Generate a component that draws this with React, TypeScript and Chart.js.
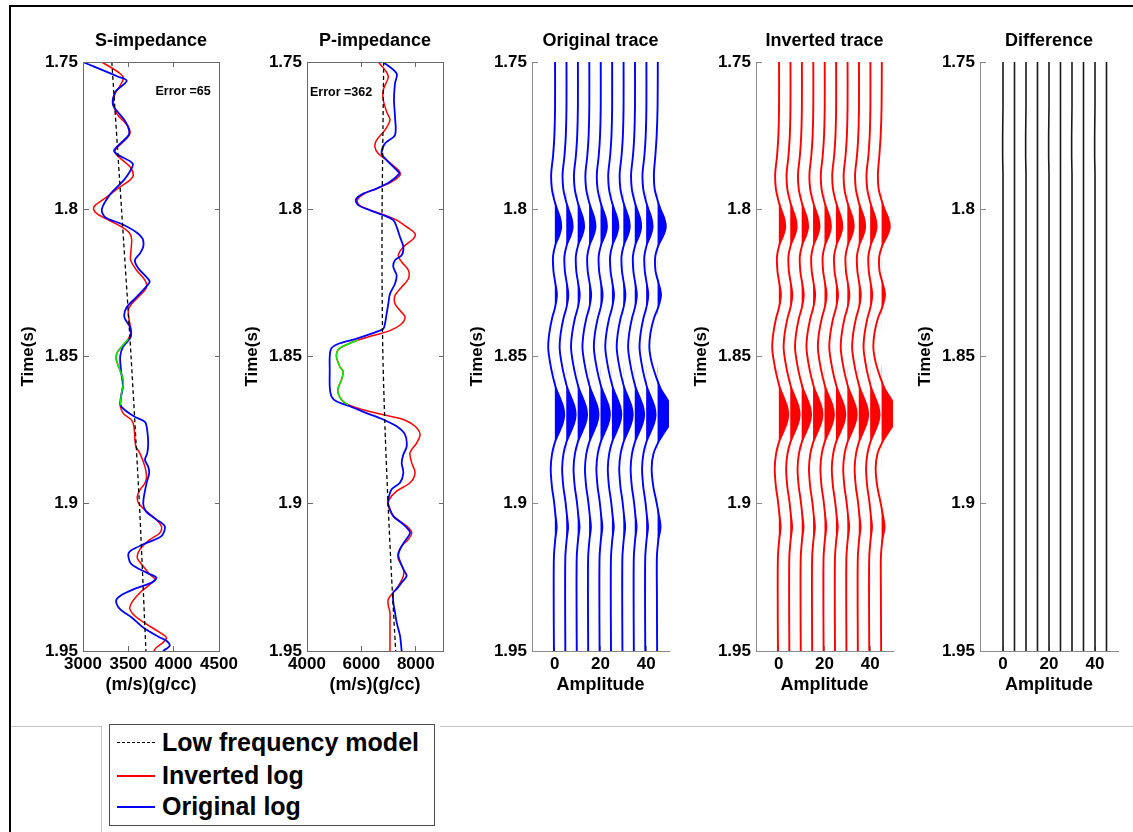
import React, { useEffect, useRef } from "react";
import { Chart, registerables } from "chart.js";

Chart.register(...registerables);

const FONT = '"Liberation Sans", Arial, Helvetica, sans-serif';
Chart.defaults.font.family = FONT;

// ---------------- tick labels ----------------
const timeTicks = [1.75, 1.8, 1.85, 1.9, 1.95];
const sImpTicks = [3000, 3500, 4000, 4500];
const pImpTicks = [4000, 6000, 8000];
const ampTicks = [0, 20, 40];

// ---------------- S-impedance  [time, value] ----------------
const sImpLowFreq: [number, number][] = [
  [1.75, 3318], [1.8, 3425], [1.85, 3530], [1.9, 3622], [1.95, 3694],
];
const sImpInverted: [number, number][] = [
  [1.75, 3208], [1.7539, 3409], [1.7556, 3445], [1.7584, 3401], [1.7607, 3354], [1.7641, 3336],
  [1.7675, 3372], [1.772, 3500], [1.7743, 3518], [1.7765, 3464], [1.7799, 3354], [1.7816, 3372],
  [1.7856, 3518], [1.7884, 3555], [1.7901, 3518], [1.7924, 3409], [1.7958, 3263], [1.7986, 3135],
  [1.8, 3117], [1.8015, 3153], [1.8037, 3281], [1.806, 3427], [1.8083, 3518], [1.8105, 3537],
  [1.8151, 3526], [1.8173, 3526], [1.8207, 3591], [1.8241, 3683], [1.8264, 3701], [1.8287, 3646],
  [1.8321, 3537], [1.8344, 3500], [1.8378, 3510], [1.8412, 3530], [1.844, 3500], [1.8485, 3380],
  [1.8508, 3365], [1.8542, 3402], [1.857, 3434], [1.8592, 3445], [1.862, 3427], [1.8649, 3416],
  [1.8666, 3409], [1.8694, 3445], [1.8716, 3537], [1.8739, 3562], [1.8784, 3573], [1.8806, 3584],
  [1.8829, 3628], [1.8874, 3683], [1.8908, 3701], [1.893, 3683], [1.8953, 3628], [1.8975, 3599],
  [1.8998, 3613], [1.9026, 3701], [1.9054, 3810], [1.9077, 3865], [1.9099, 3847], [1.9122, 3737],
  [1.9155, 3628], [1.9184, 3599], [1.9212, 3664], [1.924, 3737], [1.9257, 3792], [1.9279, 3719],
  [1.9302, 3628], [1.9336, 3537], [1.9358, 3518], [1.9381, 3573], [1.9409, 3701], [1.9437, 3847],
  [1.9454, 3920], [1.9471, 3883], [1.9488, 3810], [1.95, 3781],
];
const sImpOriginal: [number, number][] = [
  [1.75, 3000], [1.755, 3390], [1.7564, 3482], [1.76, 3360], [1.7625, 3330], [1.765, 3336],
  [1.77, 3464], [1.773, 3507], [1.775, 3500], [1.78, 3343], [1.7816, 3390], [1.7845, 3548],
  [1.7875, 3511], [1.79, 3453], [1.795, 3299], [1.8, 3208], [1.8027, 3245], [1.805, 3427],
  [1.8077, 3584], [1.81, 3657], [1.8128, 3664], [1.815, 3628], [1.8173, 3573], [1.82, 3610],
  [1.8241, 3730], [1.8252, 3726], [1.83, 3584], [1.8333, 3482], [1.8366, 3456], [1.84, 3518],
  [1.8434, 3526], [1.8468, 3440], [1.85, 3410], [1.855, 3420], [1.86, 3440], [1.8666, 3416],
  [1.8705, 3573], [1.8722, 3683], [1.875, 3708], [1.8795, 3719], [1.8829, 3708], [1.8851, 3683],
  [1.8874, 3719], [1.8896, 3730], [1.893, 3701], [1.8998, 3664], [1.9026, 3694], [1.9054, 3810],
  [1.9077, 3902], [1.911, 3865], [1.9133, 3701], [1.9161, 3518], [1.9178, 3500], [1.9206, 3537],
  [1.9234, 3701], [1.9251, 3810], [1.9268, 3756], [1.9291, 3555], [1.9313, 3409], [1.933, 3365],
  [1.9358, 3409], [1.9386, 3537], [1.942, 3664], [1.9454, 3847], [1.9465, 3920], [1.9482, 3956],
  [1.95, 3883],
];
const sGreenZone = [1.844, 1.8666];

// ---------------- P-impedance  [time, value] ----------------
const pImpLowFreq: [number, number][] = [
  [1.75, 6820], [1.775, 6790], [1.8, 6760], [1.825, 6760], [1.85, 6790],
  [1.875, 6870], [1.9, 6980], [1.925, 7110], [1.95, 7260],
];
const pImpInverted: [number, number][] = [
  [1.75, 6620], [1.7527, 6866], [1.755, 6989], [1.7595, 6804], [1.7629, 6804], [1.7669, 6927],
  [1.7697, 7050], [1.7731, 6866], [1.7765, 6558], [1.7788, 6497], [1.7811, 6620], [1.7833, 6927],
  [1.7867, 7358], [1.7884, 7419], [1.7907, 7112], [1.793, 6558], [1.7949, 6066], [1.7969, 5845],
  [1.7986, 5919], [1.8003, 6312], [1.802, 6866], [1.8037, 7296], [1.806, 7665], [1.8083, 7973],
  [1.81, 7911], [1.8128, 7542], [1.8156, 7358], [1.8179, 7481], [1.8207, 7727], [1.8236, 7727],
  [1.8264, 7481], [1.8293, 7235], [1.8321, 7235], [1.8344, 7419], [1.8366, 7604], [1.8389, 7481],
  [1.8412, 7050], [1.8429, 6435], [1.8444, 5882], [1.846, 5451], [1.8477, 5144], [1.85, 5082],
  [1.8534, 5205], [1.8551, 5328], [1.8579, 5267], [1.8607, 5144], [1.8624, 5144], [1.8647, 5267],
  [1.8664, 5513], [1.8681, 6066], [1.8698, 6804], [1.8714, 7542], [1.8737, 7973], [1.8765, 8157],
  [1.8793, 8034], [1.8827, 7788], [1.8861, 7850], [1.8895, 7973], [1.8929, 7788], [1.8957, 7296],
  [1.8985, 7026], [1.9008, 6989], [1.9042, 7173], [1.9076, 7665], [1.9098, 7850], [1.9121, 7727],
  [1.9143, 7481], [1.9166, 7358], [1.9188, 7358], [1.9222, 7542], [1.9245, 7542], [1.9279, 7358],
  [1.9301, 7173], [1.9324, 6989], [1.9346, 6989], [1.9369, 7050], [1.9414, 7050], [1.9459, 7050],
  [1.95, 7050],
];
const pImpOriginal: [number, number][] = [
  [1.75, 6804], [1.7539, 7296], [1.7573, 7235], [1.7629, 7198], [1.7686, 7235], [1.7748, 7235],
  [1.7777, 6866], [1.7811, 6743], [1.7833, 6927], [1.7873, 7358], [1.7879, 7395], [1.7907, 7050],
  [1.793, 6558], [1.7947, 6066], [1.7967, 5796], [1.7986, 5882], [1.8003, 6312], [1.802, 6804],
  [1.8037, 7173], [1.806, 7296], [1.8094, 7419], [1.8128, 7542], [1.8156, 7481], [1.8173, 7235],
  [1.8196, 7173], [1.8224, 7296], [1.8253, 7235], [1.8287, 7050], [1.8321, 6989], [1.8355, 6927],
  [1.8389, 6866], [1.8406, 6804], [1.842, 6450], [1.844, 5800], [1.8455, 5205], [1.8472, 4898],
  [1.85, 4836], [1.8545, 4836], [1.8602, 4836], [1.8635, 4898], [1.8652, 5082], [1.8669, 5574],
  [1.8692, 6189], [1.8714, 6804], [1.8737, 7296], [1.8765, 7604], [1.8805, 7665], [1.8833, 7542],
  [1.8861, 7481], [1.8895, 7542], [1.8929, 7419], [1.8951, 7112], [1.8985, 6989], [1.9002, 6989],
  [1.9042, 7173], [1.907, 7542], [1.9098, 7788], [1.9126, 7604], [1.9155, 7419], [1.9177, 7358],
  [1.9222, 7542], [1.9245, 7665], [1.9267, 7481], [1.929, 7296], [1.9301, 7173], [1.9335, 7173],
  [1.9369, 7235], [1.9403, 7296], [1.9448, 7419], [1.95, 7481],
];
const pGreenZone = [1.8444, 1.8664];

// ---------------- seismic traces ----------------
const traceOffsets = [0, 5, 10, 15, 20, 25, 30, 35, 40, 45];
const traceTimes = [
  1.75, 1.765, 1.775, 1.782, 1.788, 1.793, 1.797, 1.8, 1.803, 1.806,
  1.809, 1.812, 1.816, 1.821, 1.825, 1.829, 1.833, 1.837, 1.842, 1.847,
  1.852, 1.857, 1.861, 1.864, 1.867, 1.87, 1.873, 1.876, 1.879, 1.883,
  1.888, 1.894, 1.899, 1.904, 1.908, 1.912, 1.918, 1.93, 1.95,
];
// traces 1-9 (they look alike)
const originalTraceTypical = [
  0.1, 0.1, -0.2, -0.8, -1.6, -1.3, -0.2, 1.0, 2.3, 2.8,
  1.9, 0.3, -0.8, -0.6, 0.2, 0.9, 0.2, -1.2, -2.4, -2.9,
  -2.1, -0.8, 0.6, 2.2, 3.6, 4.1, 3.3, 1.7, 0.1, -1.2,
  -1.8, -1.3, -0.4, 0.3, 0.8, 0.2, -0.4, -0.5, -0.4,
];
// trace 10 (stronger response)
const originalTraceLast = [
  0.1, 0.0, -0.4, -1.0, -1.6, -1.3, 0.0, 1.3, 2.9, 3.6,
  2.5, 0.5, -1.0, -0.9, 0.4, 1.5, 0.4, -1.6, -3.1, -3.6,
  -2.6, -0.6, 1.4, 3.8, 5.7, 6.5, 5.2, 2.8, 0.4, -1.8,
  -2.6, -1.9, -0.6, 0.6, 1.3, 0.4, -0.3, -0.3, -0.2,
];
const invertedTraceTypical = [
  0.1, 0.1, -0.2, -0.8, -1.6, -1.3, -0.2, 1.0, 2.3, 2.8,
  1.9, 0.3, -0.8, -0.6, 0.2, 0.9, 0.2, -1.2, -2.4, -2.9,
  -2.1, -0.8, 0.6, 2.2, 3.6, 4.1, 3.3, 1.7, 0.1, -1.2,
  -1.8, -1.3, -0.4, 0.3, 0.8, 0.2, -0.4, -0.5, -0.4,
];
const invertedTraceLast = [
  0.1, 0.0, -0.4, -1.0, -1.6, -1.3, 0.0, 1.3, 2.9, 3.6,
  2.5, 0.5, -1.0, -0.9, 0.4, 1.5, 0.4, -1.6, -3.1, -3.6,
  -2.6, -0.6, 1.4, 3.8, 5.7, 6.5, 5.2, 2.8, 0.4, -1.8,
  -2.6, -1.9, -0.6, 0.6, 1.3, 0.4, -0.3, -0.3, -0.2,
];
const differenceTrace = [
  0, 0, -0.15, -0.15, 0, 0, 0, 0, 0, 0,
  0, 0, 0, 0, 0, 0, 0, 0, 0, 0,
  0, 0, 0, 0, 0, 0, 0, 0, 0, 0,
  0, 0, 0, 0, 0, 0, 0, 0.1, 0,
];

// ---------------- plugins ----------------
const framePlugin = {
  id: "frameBox",
  afterDatasetsDraw(chart: any, _a: any, opts: any) {
    if (!opts || !opts.show) return;
    const { ctx, chartArea } = chart;
    ctx.save();
    ctx.strokeStyle = opts.color;
    ctx.lineWidth = 1;
    ctx.strokeRect(
      Math.round(chartArea.left) + 0.5,
      Math.round(chartArea.top) + 0.5,
      Math.round(chartArea.right - chartArea.left),
      Math.round(chartArea.bottom - chartArea.top)
    );
    ctx.restore();
  },
};

const notePlugin = {
  id: "errNote",
  afterDatasetsDraw(chart: any, _a: any, opts: any) {
    if (!opts || !opts.text) return;
    const { ctx, scales } = chart;
    ctx.save();
    ctx.font = `bold 12.5px ${FONT}`;
    ctx.fillStyle = "#000";
    ctx.textAlign = "left";
    ctx.textBaseline = "middle";
    ctx.fillText(opts.text, scales.x.getPixelForValue(opts.x), scales.y.getPixelForValue(opts.y));
    ctx.restore();
  },
};

// ---------------- dataset builders ----------------
const toPts = (arr: [number, number][]) => arr.map(([t, v]) => ({ x: v, y: t }));

function impedanceDatasets(low: any, inv: any, orig: any, zone: number[]) {
  const green = inv.filter(([t]: any) => t >= zone[0] - 1e-9 && t <= zone[1] + 1e-9);
  return [
    { data: toPts(low), borderColor: "#000000", borderWidth: 1.3, borderDash: [4, 3], tension: 0.2, order: 0 },
    { data: toPts(green), borderColor: "#00ee00", borderWidth: 1.5, tension: 0.3, order: 1 },
    { data: toPts(orig), borderColor: "#0000ff", borderWidth: 1.8, tension: 0.3, order: 2 },
    { data: toPts(inv), borderColor: "#ff0000", borderWidth: 1.5, tension: 0.3, order: 3 },
  ];
}

function traceDatasets(color: string, typical: number[], last: number[], withFill: boolean) {
  const out: any[] = [];
  traceOffsets.forEach((off, i) => {
    const amp = i === traceOffsets.length - 1 ? last : typical;
    out.push({
      data: traceTimes.map((t, k) => ({ x: off + amp[k], y: t })),
      borderColor: color,
      borderWidth: withFill ? 1.9 : 1.6,
      tension: withFill ? 0.3 : 0,
      fill: false,
      order: 0,
    });
    if (withFill) {
      out.push({
        data: traceTimes.map((t, k) => ({ x: off + Math.max(0, amp[k]), y: t })),
        borderColor: "transparent",
        borderWidth: 0,
        backgroundColor: color,
        fill: { value: off },
        tension: 0.3,
        order: 1,
      });
    }
  });
  return out;
}

// ---------------- panel ----------------
type Spec = {
  id: string;
  left: number;
  width: number;
  title: string;
  xTitle: string;
  xMin: number;
  xMax: number;
  xTicks: number[];
  boxed: boolean;
  axisColor: string;
  datasets: any[];
  note?: { text: string; x: number; y: number };
};

const PLOT_TOP = 62;
const PLOT_BOTTOM = 651;
const CANVAS_H = 720;
const Y_W = 80;
const PAD_R = 40;

function Panel({ spec }: { spec: Spec }) {
  const ref = useRef<HTMLCanvasElement | null>(null);
  useEffect(() => {
    if (!ref.current) return;
    const plotH = PLOT_BOTTOM - PLOT_TOP;
    const tickFont = { size: 17, weight: "bold" as const, family: FONT, lineHeight: 1.2 };
    const chart = new Chart(ref.current, {
      type: "line",
      data: { datasets: spec.datasets },
      plugins: [framePlugin, notePlugin],
      options: {
        animation: false,
        responsive: false,
        indexAxis: "y",
        events: [],
        layout: { padding: { left: 0, right: PAD_R, top: 0, bottom: 0 }, autoPadding: false },
        elements: { point: { radius: 0 }, line: { fill: false } },
        plugins: {
          legend: { display: false },
          tooltip: { enabled: false },
          title: {
            display: true,
            text: spec.title,
            fullSize: false,
            color: "#000",
            font: { size: 18, weight: "bold", family: FONT, lineHeight: 1.2 },
            padding: { top: 30.5, bottom: PLOT_TOP - 30.5 - 21.6 },
          },
          frameBox: { show: spec.boxed, color: spec.axisColor },
          errNote: spec.note || {},
        } as any,
        scales: {
          x: {
            type: "linear",
            position: "bottom",
            min: spec.xMin,
            max: spec.xMax,
            bounds: "data",
            afterBuildTicks: (s: any) => {
              s.ticks = spec.xTicks.map((v) => ({ value: v }));
            },
            afterFit: (s: any) => {
              s.height = CANVAS_H - PLOT_BOTTOM;
            },
            ticks: {
              color: "#000",
              font: tickFont,
              padding: 3,
              autoSkip: false,
              maxRotation: 0,
              minRotation: 0,
              callback: (v: any) => String(v),
            },
            grid: { color: spec.axisColor, lineWidth: 1, drawTicks: false, drawOnChartArea: true },
            border: {
              display: true,
              color: spec.axisColor,
              width: 1,
              dash: spec.boxed ? [5, plotH - 10, 5, 5000] : [0, plotH - 5, 5, 5000],
            },
            title: {
              display: true,
              text: spec.xTitle,
              color: "#000",
              font: { size: 18, weight: "bold", family: FONT, lineHeight: 1.2 },
              padding: { top: 0, bottom: 24 },
            },
          },
          y: {
            type: "linear",
            position: "left",
            reverse: true,
            min: 1.75,
            max: 1.95,
            bounds: "data",
            afterBuildTicks: (s: any) => {
              s.ticks = timeTicks.map((v) => ({ value: v }));
            },
            afterFit: (s: any) => {
              s.width = Y_W;
            },
            ticks: {
              color: "#000",
              font: tickFont,
              padding: 5,
              autoSkip: false,
              callback: (v: any) => String(+Number(v).toFixed(2)),
            },
            grid: { color: spec.axisColor, lineWidth: 1, drawTicks: false, drawOnChartArea: true },
            border: {
              display: true,
              color: spec.axisColor,
              width: 1,
              dash: spec.boxed ? [5, spec.width - 10, 5, 5000] : [5, 5000],
            },
            title: {
              display: true,
              text: "Time(s)",
              color: "#000",
              font: { size: 17, weight: "bold", family: FONT, lineHeight: 1.2 },
              padding: { top: 15, bottom: 0 },
            },
          },
        },
      } as any,
    });
    return () => chart.destroy();
  }, [spec]);

  const w = Y_W + spec.width + PAD_R;
  return (
    <canvas
      ref={ref}
      width={w}
      height={CANVAS_H}
      style={{ position: "absolute", left: spec.left - Y_W, top: 0, width: w, height: CANVAS_H }}
    />
  );
}

const panels: Spec[] = [
  {
    id: "s",
    left: 83,
    width: 136,
    title: "S-impedance",
    xTitle: "(m/s)(g/cc)",
    xMin: 3000,
    xMax: 4500,
    xTicks: sImpTicks,
    boxed: true,
    axisColor: "#6a6a6a",
    datasets: impedanceDatasets(sImpLowFreq, sImpInverted, sImpOriginal, sGreenZone),
    note: { text: "Error =65", x: 3800, y: 1.7601 },
  },
  {
    id: "p",
    left: 307,
    width: 136,
    title: "P-impedance",
    xTitle: "(m/s)(g/cc)",
    xMin: 4000,
    xMax: 9000,
    xTicks: pImpTicks,
    boxed: true,
    axisColor: "#6a6a6a",
    datasets: impedanceDatasets(pImpLowFreq, pImpInverted, pImpOriginal, pGreenZone),
    note: { text: "Error =362", x: 4110, y: 1.7604 },
  },
  {
    id: "o",
    left: 532,
    width: 137,
    title: "Original trace",
    xTitle: "Amplitude",
    xMin: -10,
    xMax: 50,
    xTicks: ampTicks,
    boxed: false,
    axisColor: "#8a8a8a",
    datasets: traceDatasets("#0000ff", originalTraceTypical, originalTraceLast, true),
  },
  {
    id: "i",
    left: 756,
    width: 137,
    title: "Inverted trace",
    xTitle: "Amplitude",
    xMin: -10,
    xMax: 50,
    xTicks: ampTicks,
    boxed: false,
    axisColor: "#8a8a8a",
    datasets: traceDatasets("#ff0000", invertedTraceTypical, invertedTraceLast, true),
  },
  {
    id: "d",
    left: 980,
    width: 138,
    title: "Difference",
    xTitle: "Amplitude",
    xMin: -10,
    xMax: 50,
    xTicks: ampTicks,
    boxed: false,
    axisColor: "#8a8a8a",
    datasets: traceDatasets("#1a1a1a", differenceTrace, differenceTrace, false),
  },
];

const legendItems = [
  { label: "Low frequency model", color: "#000", dashed: true },
  { label: "Inverted log", color: "#ff0000", dashed: false },
  { label: "Original log", color: "#0000ff", dashed: false },
];

function Legend() {
  const rowCenters = [742, 774.5, 806];
  return (
    <div
      style={{
        position: "absolute",
        left: 109,
        top: 724,
        width: 326,
        height: 102,
        boxSizing: "border-box",
        border: "1.5px solid #4a4a4a",
        background: "#fff",
      }}
    >
      {legendItems.map((it, i) => (
        <React.Fragment key={it.label}>
          <div
            style={{
              position: "absolute",
              left: 7,
              top: rowCenters[i] - 724 - 1,
              width: 38,
              height: 0,
              borderTop: it.dashed ? `1.5px dashed ${it.color}` : `2px solid ${it.color}`,
            }}
          />
          <div
            style={{
              position: "absolute",
              left: 52,
              top: rowCenters[i] - 724 - 16,
              height: 30,
              lineHeight: "30px",
              fontFamily: FONT,
              fontWeight: "bold",
              fontSize: 25,
              color: "#000",
              whiteSpace: "nowrap",
            }}
          >
            {it.label}
          </div>
        </React.Fragment>
      ))}
    </div>
  );
}

export default function App() {
  return (
    <div
      style={{
        position: "absolute",
        left: 0,
        top: 0,
        width: 1133,
        height: 832,
        background: "#fff",
        overflow: "hidden",
      }}
    >
      <div style={{ position: "absolute", left: 9, top: 5, width: 1124, height: 2, background: "#000" }} />
      <div style={{ position: "absolute", left: 9, top: 5, width: 2, height: 827, background: "#000" }} />
      <div style={{ position: "absolute", left: 11, top: 726, width: 90, height: 1, background: "#c4c4c4" }} />
      <div style={{ position: "absolute", left: 101, top: 726, width: 1, height: 106, background: "#c4c4c4" }} />
      <div style={{ position: "absolute", left: 440, top: 726, width: 693, height: 1, background: "#c4c4c4" }} />
      {panels.map((p) => (
        <Panel key={p.id} spec={p} />
      ))}
      <Legend />
    </div>
  );
}
